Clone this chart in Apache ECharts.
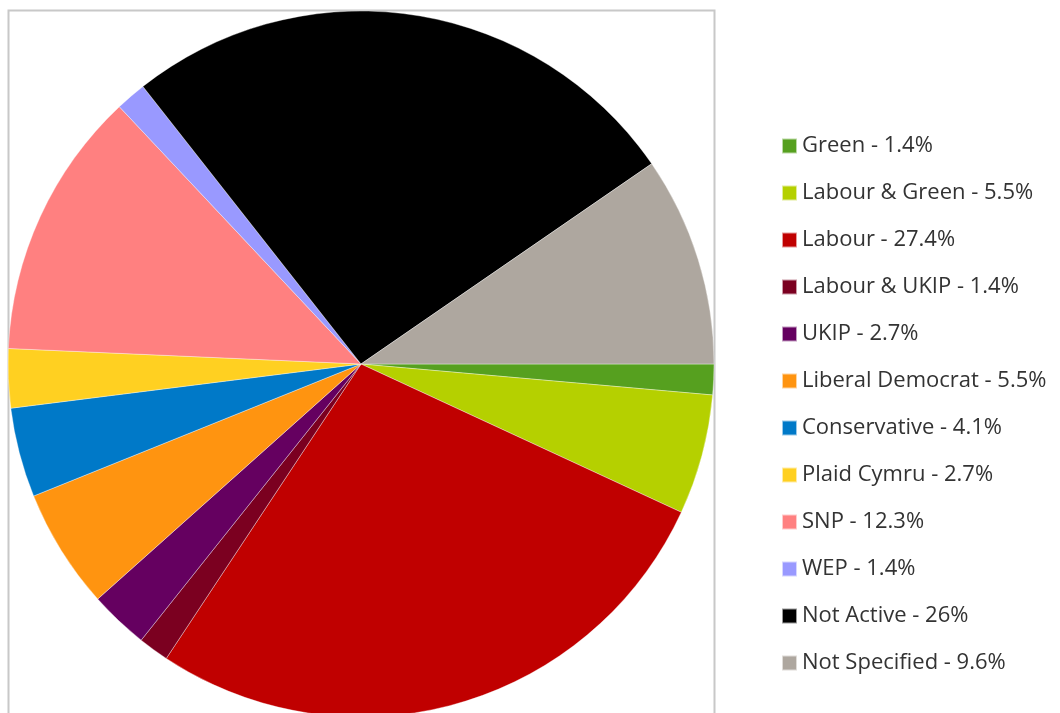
<!DOCTYPE html>
<html><head><meta charset="utf-8">
<script src="https://cdn.jsdelivr.net/npm/echarts@6/dist/echarts.min.js"></script>
<style>html,body{margin:0;padding:0;background:#fff}#c{width:1060px;height:713px}</style>
</head><body><div id="c"></div>
<script>
const categories = ['Green','Labour & Green','Labour','Labour & UKIP','UKIP','Liberal Democrat','Conservative','Plaid Cymru','SNP','WEP','Not Active','Not Specified'];
const percentLabels = ['1.4%','5.5%','27.4%','1.4%','2.7%','5.5%','4.1%','2.7%','12.3%','1.4%','26%','9.6%'];
const values = [1.4,5.5,27.4,1.4,2.7,5.5,4.1,2.7,12.3,1.4,26,9.6];
const colors = ['#56a01f','#b5d000','#c00000','#7b0020','#650060','#ff9410','#0079c8','#ffd021','#ff8080','#9999ff','#000000','#aea79f'];

const chart = echarts.init(document.getElementById('c'));
chart.setOption({
  animation:false,
  color: colors,
  graphic:[{type:'rect',shape:{x:8.5,y:10.5,width:706,height:720},style:{fill:'none',stroke:'#c8c8c8',lineWidth:2},z:-1}],
  legend:{
    orient:'vertical', left:781, top:134, padding:0,
    itemWidth:15, itemHeight:15, itemGap:23,
    icon:'rect',
    data: categories,
    formatter: function(n){ return n + ' - ' + percentLabels[categories.indexOf(n)]; },
    textStyle:{fontFamily:'Open Sans', fontSize:22, color:'#333333', lineHeight:24}
  },
  series:[{
    type:'pie', center:[361,364], radius:353, startAngle:0, clockwise:true,
    label:{show:false}, labelLine:{show:false},
    itemStyle:{borderColor:'rgba(255,255,255,0.6)', borderWidth:0.6},
    emphasis:{disabled:true},
    data: categories.map((c,i)=>({name:c, value:values[i]}))
  }]
});
</script></body></html>
